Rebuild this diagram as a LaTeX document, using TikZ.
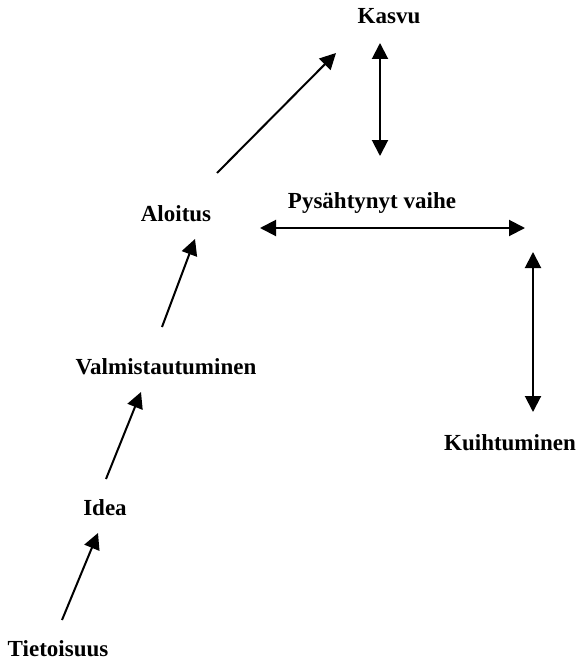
\documentclass[tikz,border=0pt]{standalone}
\usepackage{fontspec}
\setmainfont{Liberation Serif}
\usetikzlibrary{arrows.meta}
\begin{document}
\begin{tikzpicture}[x=1pt,y=-1pt,
  stage/.style={font=\bfseries\fontsize{23}{27}\selectfont, inner sep=0pt, anchor=base},
  head/.style={Triangle[length=16pt,width=16pt]},
  link/.style={line width=2pt, -{Triangle[length=16pt,width=16pt]}},
  twoway/.style={line width=2pt, {Triangle[length=16pt,width=16pt]}-{Triangle[length=16pt,width=16pt]}}]
\useasboundingbox (0,0) rectangle (578,661);

% stage labels
\node[stage] (kasvu) at (389,24) {Kasvu};
\node[stage] (pysahtynyt) at (372,208) {Pysähtynyt vaihe};
\node[stage] (aloitus) at (176,221) {Aloitus};
\node[stage] (valmistautuminen) at (166,374) {Valmistautuminen};
\node[stage] (idea) at (105,515) {Idea};
\node[stage] (tietoisuus) at (58,656) {Tietoisuus};
\node[stage] (kuihtuminen) at (510,450) {Kuihtuminen};

% arrow end points
\coordinate (t1) at (62,620);  \coordinate (i1) at (98,533);
\coordinate (i2) at (106,479); \coordinate (v1) at (141,392);
\coordinate (v2) at (162,327); \coordinate (a1) at (195,239);
\coordinate (a2) at (217,173); \coordinate (k1) at (336,53);
\coordinate (k2) at (380,43);  \coordinate (p1) at (380,156);
\coordinate (p2) at (260,228); \coordinate (p3) at (525,228);
\coordinate (p4) at (533,252); \coordinate (u1) at (533,412);

% connectors
\draw[link] (t1) -- (i1);
\draw[link] (i2) -- (v1);
\draw[link] (v2) -- (a1);
\draw[link] (a2) -- (k1);
\draw[twoway] (k2) -- (p1);
\draw[twoway] (p2) -- (p3);
\draw[twoway] (p4) -- (u1);
\end{tikzpicture}
\end{document}
